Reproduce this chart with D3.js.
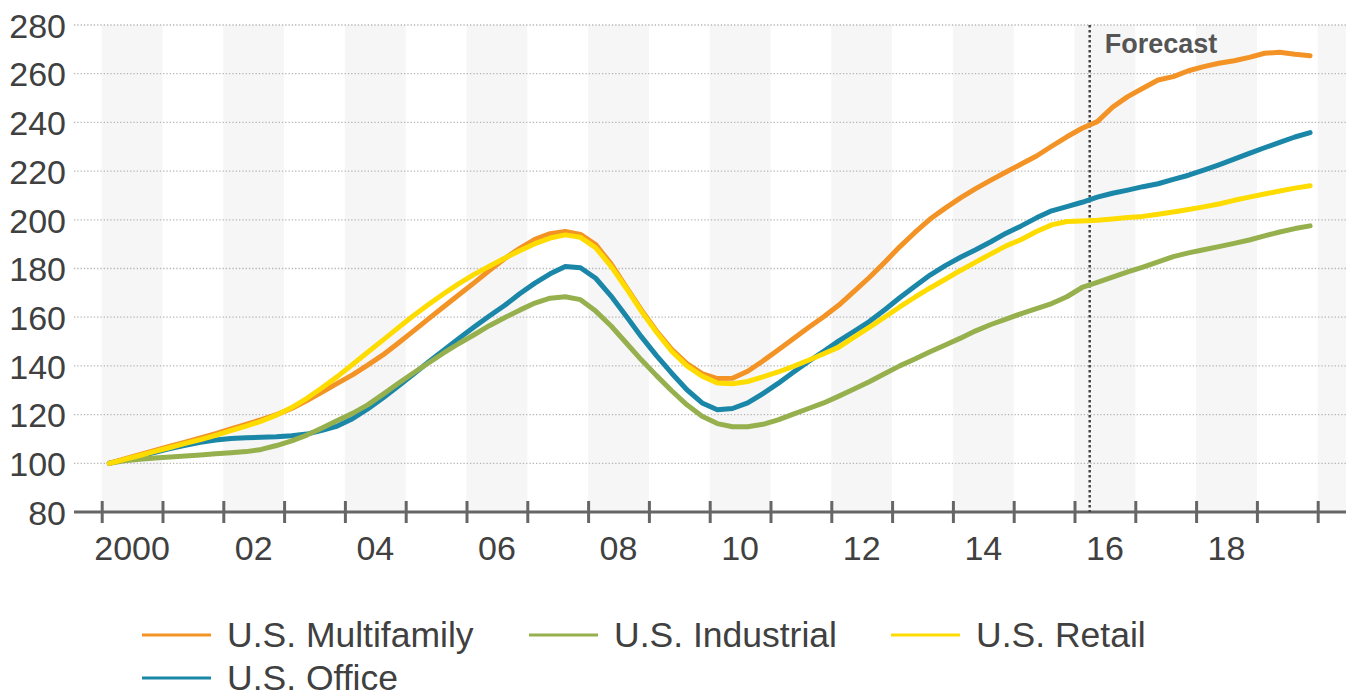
<!DOCTYPE html>
<html>
<head>
<meta charset="utf-8">
<script src="https://cdn.jsdelivr.net/npm/d3@7"></script>
<style>
  body { margin: 0; background: #fff; }
  text { font-family: "Liberation Sans", Arial, sans-serif; }
</style>
</head>
<body>
<svg id="chart" width="1356" height="698"></svg>
<script>
// Quarterly index values, 2000Q1 = 100, through 2019Q4
const multifamily = [
  100, 101.8, 103.6, 105.3, 107.0, 108.7, 110.4, 112.2, 114.1, 116.0,
  117.9, 120.0, 122.5, 125.8, 129.3, 132.8, 136.3, 140.3, 144.5, 149.3,
  154.3, 159.3, 164.3, 169.2, 174.1, 179.2, 184.0, 188.3, 192.0, 194.3,
  195.2, 194.0, 189.8, 182.0, 172.5, 163.0, 154.3, 146.8, 141.0, 136.8,
  134.8, 134.9, 137.8, 142.0, 146.5, 151.2, 155.8, 160.2, 165.0, 170.6,
  176.3, 182.5, 188.9, 194.8, 200.3, 204.8, 209.0, 212.8, 216.3, 219.6,
  222.9, 226.2, 230.2, 234.1, 237.6, 240.3, 246.2, 250.6, 254.0, 257.4,
  258.8, 261.2, 262.9, 264.3, 265.3, 266.7, 268.4, 268.8, 268.0, 267.4
];
const industrial = [
  100, 101.0, 101.7, 102.2, 102.6, 103.0, 103.4, 103.9, 104.3, 104.8,
  105.7, 107.3, 109.2, 111.6, 114.5, 117.6, 120.5, 124.0, 128.3, 132.8,
  137.1, 141.2, 145.3, 149.2, 152.8, 156.5, 159.8, 162.9, 165.8, 167.8,
  168.4, 167.2, 162.5, 156.5, 149.5, 142.5, 136.0, 129.8, 124.0, 119.3,
  116.3, 115.0, 115.0, 116.0, 117.8, 120.2, 122.5, 124.8, 127.6, 130.5,
  133.5, 136.8, 140.0, 142.8, 145.8, 148.6, 151.4, 154.4, 157.0, 159.2,
  161.5, 163.5, 165.6, 168.4, 172.2, 174.3, 176.5, 178.6, 180.6, 182.7,
  184.9, 186.4, 187.7, 189.0, 190.3, 191.7, 193.4, 195.0, 196.4, 197.5
];
const retail = [
  100, 101.6, 103.2, 104.9, 106.5, 108.2, 109.7, 111.5, 113.4, 115.3,
  117.3, 119.8, 122.9, 126.7, 131.0, 135.6, 140.6, 145.6, 150.6, 155.6,
  160.6, 165.2, 169.6, 173.8, 177.6, 180.9, 184.2, 187.3, 190.2, 192.5,
  193.8, 192.8, 188.5, 181.0, 172.0, 162.5, 153.8, 146.0, 140.0, 135.8,
  133.0, 132.7, 133.6, 135.5, 137.5, 139.8, 142.3, 145.0, 147.7, 151.8,
  155.8, 160.0, 164.2, 168.2, 172.0, 175.6, 179.2, 182.6, 186.0, 189.3,
  191.9, 195.2, 197.9, 199.3, 199.5, 199.8, 200.3, 200.9, 201.4, 202.3,
  203.2, 204.2, 205.3, 206.5, 208.0, 209.3, 210.6, 211.8, 213.0, 214.0
];
const office = [
  100, 101.5, 103.0, 104.5, 106.0, 107.4, 108.6, 109.6, 110.2, 110.5,
  110.7, 110.9, 111.3, 112.0, 113.5, 115.3, 118.3, 122.3, 126.8, 131.6,
  136.6, 141.6, 146.4, 151.3, 156.0, 160.5, 164.8, 169.6, 174.0, 177.8,
  180.8, 180.3, 176.0, 168.8, 160.5, 152.0, 144.2, 137.0, 130.2, 124.8,
  122.0, 122.5, 124.8, 128.6, 132.8, 137.4, 141.8, 146.0, 150.3, 154.2,
  158.2, 163.0, 168.0, 172.7, 177.3, 181.2, 184.6, 187.7, 191.0, 194.5,
  197.5, 200.8, 203.7, 205.4, 207.2, 209.3, 210.9, 212.2, 213.6, 214.8,
  216.6, 218.3, 220.4, 222.6, 224.9, 227.3, 229.6, 231.8, 234.0, 235.8
];

const startYear = 2000;
const forecastStart = 2016.25;
const yTicks = [80, 100, 120, 140, 160, 180, 200, 220, 240, 260, 280];
const xLabelYears = [2000, 2002, 2004, 2006, 2008, 2010, 2012, 2014, 2016, 2018];
const xLabels = ["2000", "02", "04", "06", "08", "10", "12", "14", "16", "18"];

const series = [
  { name: "U.S. Office", values: office, color: "#1A87A8" },
  { name: "U.S. Industrial", values: industrial, color: "#97B04E" },
  { name: "U.S. Multifamily", values: multifamily, color: "#F39325" },
  { name: "U.S. Retail", values: retail, color: "#FEDC00" }
];
const legendOrder = ["U.S. Multifamily", "U.S. Industrial", "U.S. Retail", "U.S. Office"];

const svg = d3.select("#chart");
const plotLeft = 74, plotRight = 1346;

const x = d3.scaleLinear().domain([2000, 2020]).range([101.7, 1317.7]);
const y = d3.scaleLinear().domain([80, 280]).range([512, 25]);
const xMax = x.invert(plotRight);

// alternating year bands
svg.append("g")
  .selectAll("rect")
  .data(d3.range(2000, 2021).filter(yr => yr % 2 === 0))
  .enter()
  .append("rect")
  .attr("x", d => x(d))
  .attr("y", y(280))
  .attr("width", d => x(Math.min(d + 1, xMax)) - x(d))
  .attr("height", y(80) - y(280))
  .attr("fill", "#f6f6f6");

// dotted grid lines
svg.append("g")
  .selectAll("line")
  .data(yTicks.filter(v => v > 80))
  .enter()
  .append("line")
  .attr("x1", plotLeft)
  .attr("x2", plotRight)
  .attr("y1", d => y(d))
  .attr("y2", d => y(d))
  .attr("stroke", "#b5b5b5")
  .attr("stroke-width", 1.3)
  .attr("stroke-dasharray", "1.3,2");

// y axis labels
const yAxis = svg.append("g")
  .attr("transform", "translate(66,0)")
  .call(d3.axisLeft(y).tickValues(yTicks).tickSize(0).tickPadding(0));
yAxis.select(".domain").remove();
yAxis.selectAll("text")
  .attr("dy", "0.36em")
  .style("font-size", "34px")
  .style("font-family", "'Liberation Sans', Arial, sans-serif")
  .attr("fill", "#404040");

// x axis: line with ticks crossing it
svg.append("line")
  .attr("x1", plotLeft)
  .attr("x2", plotRight)
  .attr("y1", y(80))
  .attr("y2", y(80))
  .attr("stroke", "#666")
  .attr("stroke-width", 3);

const xAxis = svg.append("g")
  .attr("transform", `translate(0,${y(80)})`)
  .call(d3.axisBottom(x).tickValues(d3.range(2000, 2021)).tickSize(11).tickFormat(""));
xAxis.select(".domain").remove();
xAxis.selectAll(".tick line")
  .attr("y1", -11)
  .attr("stroke", "#666")
  .attr("stroke-width", 3);

svg.append("g")
  .selectAll("text")
  .data(xLabelYears)
  .enter()
  .append("text")
  .attr("x", d => x(d + 0.5))
  .attr("y", 560)
  .attr("text-anchor", "middle")
  .style("font-size", "34px")
  .attr("fill", "#404040")
  .text((d, i) => xLabels[i]);

// forecast marker
svg.append("line")
  .attr("x1", x(forecastStart))
  .attr("x2", x(forecastStart))
  .attr("y1", y(280))
  .attr("y2", y(80))
  .attr("stroke", "#444")
  .attr("stroke-width", 2.5)
  .attr("stroke-dasharray", "2.5,2.5");

svg.append("text")
  .attr("x", x(forecastStart) + 15)
  .attr("y", 53)
  .style("font-size", "27px")
  .style("font-weight", "bold")
  .attr("fill", "#555")
  .text("Forecast");

// lines
const line = d3.line()
  .x((d, i) => x(startYear + (i + 0.5) / 4))
  .y(d => y(d));

svg.append("g")
  .selectAll("path")
  .data(series)
  .enter()
  .append("path")
  .attr("d", d => line(d.values))
  .attr("fill", "none")
  .attr("stroke", d => d.color)
  .attr("stroke-width", 5)
  .attr("stroke-linejoin", "round")
  .attr("stroke-linecap", "round");

// legend
const legendPos = [
  { lx: 142, ly: 635 },
  { lx: 529, ly: 635 },
  { lx: 891, ly: 635 },
  { lx: 142, ly: 678 }
];
const legend = svg.append("g")
  .selectAll("g")
  .data(legendOrder.map(n => series.find(s => s.name === n)))
  .enter()
  .append("g")
  .attr("transform", (d, i) => `translate(${legendPos[i].lx},${legendPos[i].ly})`);

legend.append("line")
  .attr("x1", 0)
  .attr("x2", 69)
  .attr("stroke", d => d.color)
  .attr("stroke-width", 3);

legend.append("text")
  .attr("x", 85)
  .attr("y", 12)
  .style("font-size", "35.5px")
  .attr("fill", "#404040")
  .text(d => d.name);
</script>
</body>
</html>
